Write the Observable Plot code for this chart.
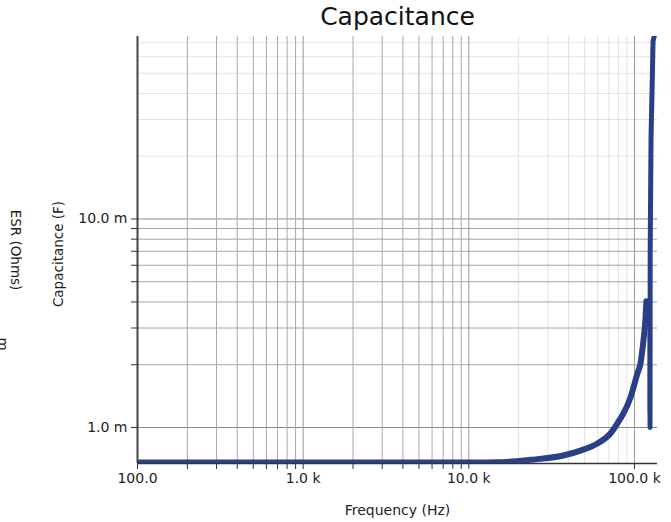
<!DOCTYPE html>
<html>
<head>
<meta charset="utf-8">
<script src="https://cdn.jsdelivr.net/npm/d3@7"></script>
<script src="https://cdn.jsdelivr.net/npm/@observablehq/plot@0.6"></script>
<style>
  html, body { margin: 0; padding: 0; background: #fff; }
  #chart svg { display: block; }
</style>
</head>
<body>
<div id="chart"></div>
<script>
// ---- data ----
const mainFreq = [100, 1000, 10000, 14900, 23500, 37200, 47200, 59700, 71600, 82300, 85800, 94600, 98600, 104200, 108700, 113300, 116400, 118000];
const mainCap  = [0.679e-3, 0.679e-3, 0.680e-3, 0.681e-3, 0.700e-3, 0.734e-3, 0.775e-3, 0.838e-3, 0.936e-3, 1.105e-3, 1.168e-3, 1.394e-3, 1.557e-3, 1.819e-3, 2.03e-3, 2.62e-3, 3.27e-3, 4.03e-3];

const dropFreq = [118000, 121400, 121400, 124100];
const dropCap  = [4.03e-3, 3.95e-3, 1.21e-3, 1.0e-3];

const riseFreq = [124100, 124400, 125900, 127700, 129400, 133900];
const riseCap  = [1.0e-3, 7.1e-3, 24.8e-3, 41.7e-3, 71e-3, 80e-3];

const xMajorTicks = [100, 1000, 10000, 100000];
const xMajorLabels = ["100.0", "1.0 k", "10.0 k", "100.0 k"];
const xMinorDark = [200, 300, 400, 500, 600, 700, 800, 900, 2000, 3000, 4000, 5000, 6000, 7000, 8000, 9000];
const xGridLight = [20000, 30000, 40000, 50000, 60000, 70000, 80000, 90000];

const yMajorTicks = [1e-3, 10e-3];
const yMajorLabels = ["1.0 m", "10.0 m"];
const yMinorDark = [2e-3, 3e-3, 4e-3, 5e-3, 6e-3, 7e-3, 8e-3, 9e-3];
const yGridLight = [20e-3, 30e-3, 40e-3, 50e-3, 60e-3, 70e-3];

const xDomain = [100, 137700];
const yDomain = [0.672e-3, 75e-3];

const toRows = (xs, ys) => xs.map((x, i) => ({f: x, c: ys[i]}));
const mainRows = toRows(mainFreq, mainCap);
const dropRows = toRows(dropFreq, dropCap);
const riseRows = toRows(riseFreq, riseCap);

const xTickAll = [...xMajorTicks, ...xMinorDark].sort((a, b) => a - b);
const yTickAll = [...yMajorTicks, ...yMinorDark].sort((a, b) => a - b);
const xLabel = d => { const i = xMajorTicks.indexOf(d); return i >= 0 ? xMajorLabels[i] : ""; };
const yLabel = d => { const i = yMajorTicks.indexOf(d); return i >= 0 ? yMajorLabels[i] : ""; };

const lineColor = "#2a3f88";

const chart = Plot.plot({
  width: 671,
  height: 522,
  marginLeft: 137,
  marginRight: 14,
  marginTop: 36,
  marginBottom: 59,
  style: {fontFamily: "DejaVu Sans", fontSize: "14px", color: "#222", background: "#fff"},
  x: {type: "log", domain: xDomain},
  y: {type: "log", domain: yDomain},
  marks: [
    // light grid (upper region / upper decade)
    Plot.ruleY(yGridLight, {stroke: "#e2e2e2", strokeWidth: 1}),
    Plot.ruleX(xGridLight, {stroke: "#e2e2e2", strokeWidth: 1}),
    // darker grid
    Plot.ruleY(yMinorDark, {stroke: "#a4a4a4", strokeWidth: 1}),
    Plot.ruleY(yMajorTicks, {stroke: "#8a8a8a", strokeWidth: 1}),
    Plot.ruleX(xMinorDark, {stroke: "#a8a8a8", strokeWidth: 1}),
    Plot.ruleX([1000, 10000, 100000], {stroke: "#9a9a9a", strokeWidth: 1}),
    // axis lines
    Plot.ruleY([yDomain[0]], {stroke: "#333", strokeWidth: 1.5}),
    // data
    Plot.line(mainRows, {x: "f", y: "c", stroke: lineColor, strokeWidth: 6, curve: "monotone-x", clip: true}),
    Plot.line(dropRows, {x: "f", y: "c", stroke: lineColor, strokeWidth: 1.6, clip: true}),
    Plot.line(riseRows, {x: "f", y: "c", stroke: lineColor, strokeWidth: 5, clip: true}),
    Plot.ruleX([xDomain[0]], {stroke: "#444", strokeWidth: 2}),
    // axes
    Plot.axisX({ticks: xTickAll, tickFormat: xLabel, tickSize: 6, tickPadding: 4, label: null, stroke: "#333", fill: "#222", fontSize: 14}),
    Plot.axisY({ticks: yTickAll, tickFormat: yLabel, tickSize: 6, tickPadding: 4, label: null, stroke: "#333", fill: "#222", fontSize: 14}),
    // titles
    Plot.text(["Capacitance"], {frameAnchor: "top", lineAnchor: "middle", dy: -20, fontSize: 25, fill: "#111"}),
    Plot.text(["Frequency (Hz)"], {frameAnchor: "bottom", lineAnchor: "middle", dy: 47, fontSize: 14, fill: "#222"}),
    Plot.text(["Capacitance (F)"], {frameAnchor: "left", textAnchor: "middle", lineAnchor: "middle", dx: -79, dy: 4, rotate: -90, fontSize: 13.5, fill: "#222"}),
    Plot.text(["ESR (Ohms)"], {frameAnchor: "left", textAnchor: "middle", lineAnchor: "middle", dx: -122, dy: 0, rotate: 90, fontSize: 13.5, fill: "#222"}),
    Plot.text(["m"], {frameAnchor: "left", textAnchor: "middle", lineAnchor: "middle", dx: -135, dy: 94, rotate: 90, fontSize: 13.5, fill: "#222"})
  ]
});

document.getElementById("chart").appendChild(chart);
</script>
</body>
</html>
